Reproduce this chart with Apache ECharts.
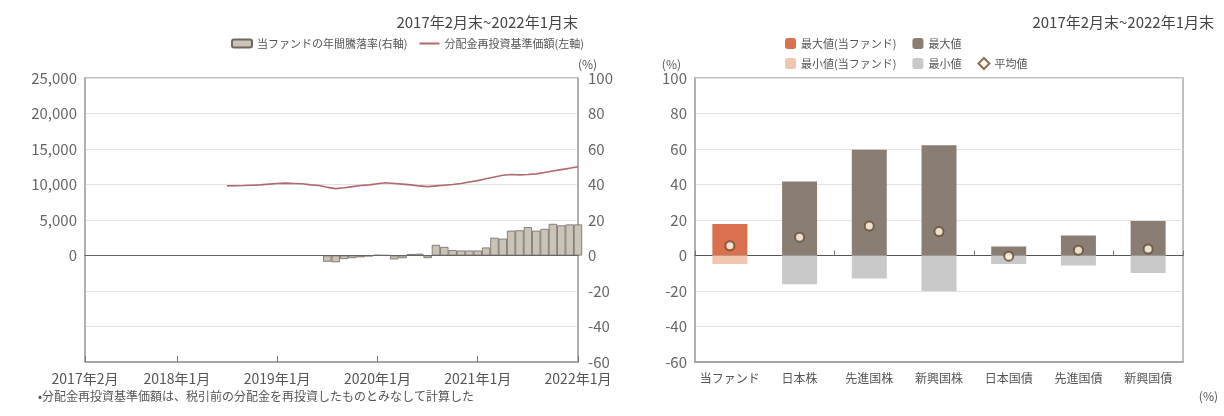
<!DOCTYPE html>
<html>
<head>
<meta charset="utf-8">
<script src="https://cdn.jsdelivr.net/npm/echarts@6/dist/echarts.min.js"></script>
<style>html,body{margin:0;padding:0;background:#fff;}#c{width:1224px;height:416px;}</style>
</head>
<body>
<div id="c"></div>
<script>
// ---- data ----
// monthly categories 2017年2月 .. 2022年1月 (60 months)
const months = [];
for (let y = 2017, m = 2; months.length < 60; ) {
  months.push(y + '年' + m + '月');
  m++; if (m > 12) { m = 1; y++; }
}
const navStartIndex = 17;   // first month with NAV value
const navValues = [9800, 9820, 9850, 9900, 9950, 10050, 10150, 10200, 10150, 10100,
  9950, 9850, 9600, 9420, 9550, 9700, 9850, 9950, 10100, 10250,
  10150, 10050, 9950, 9800, 9700, 9800, 9900, 10000, 10150, 10350,
  10550, 10800, 11050, 11300, 11400, 11350, 11400, 11500, 11700, 11900,
  12100, 12300, 12500];
const retStartIndex = 29;   // first month with 1-year return
const returnValues = [-3.5, -3.8, -2.0, -1.5, -1.0, -0.5, 0.3, 0.2, -2.2, -1.5,
  0.8, 1.0, -1.5, 6.0, 4.8, 3.0, 2.8, 2.8, 2.8, 4.5,
  10.0, 9.5, 14.0, 14.2, 16.0, 14.0, 15.0, 17.8, 17.0, 17.5, 17.5];
const leftTickLabels = ['2017年2月', '2018年1月', '2019年1月', '2020年1月', '2021年1月', '2022年1月'];

const assets = ['当ファンド', '日本株', '先進国株', '新興国株', '日本国債', '先進国債', '新興国債'];
const maxValues = [17.7, 41.7, 59.6, 62.1, 5.1, 11.2, 19.4];
const minValues = [-4.8, -16.2, -13.0, -20.0, -4.8, -5.7, -9.9];
const avgValues = [5.5, 10.3, 16.6, 13.5, -0.4, 3.0, 3.6];

// ---- build series arrays ----
const navSeries = months.map((_, i) => (i >= navStartIndex ? navValues[i - navStartIndex] : null));
const retSeries = months.map((_, i) => (i >= retStartIndex ? returnValues[i - retStartIndex] : null));
const fundMax = maxValues.map((v, i) => (i === 0 ? v : '-'));
const othMax = maxValues.map((v, i) => (i === 0 ? '-' : v));
const fundMin = minValues.map((v, i) => (i === 0 ? v : '-'));
const othMin = minValues.map((v, i) => (i === 0 ? '-' : v));

const FONT = '"Noto Sans CJK JP", "Noto Sans", sans-serif';
const tickIdx = leftTickLabels.map(l => months.indexOf(l));
const showLbl = (idx, val) => tickIdx.indexOf(idx) >= 0 || leftTickLabels.indexOf(val) >= 0;

const chart = echarts.init(document.getElementById('c'));
chart.setOption({
  animation: false,
  textStyle: { fontFamily: FONT },
  title: [
    { text: '2017年2月末~2022年1月末', right: 641, top: 10, textStyle: { fontSize: 15, fontWeight: 'normal', color: '#444', fontFamily: FONT } },
    { text: '2017年2月末~2022年1月末', right: 5, top: 10, textStyle: { fontSize: 15, fontWeight: 'normal', color: '#444', fontFamily: FONT } }
  ],
  legend: [
    { data: ['当ファンドの年間騰落率(右軸)', { name: '分配金再投資基準価額(左軸)', icon: 'path://M0,0 H20 V2 H0 Z' }], left: 226, top: 33,
      itemWidth: 20, itemHeight: 8, itemGap: 12, textStyle: { fontSize: 11, color: '#555', fontFamily: FONT } },
    { data: ['最大値(当ファンド)', '最大値'], left: 780, top: 33,
      itemWidth: 11, itemHeight: 11, itemGap: 16, textStyle: { fontSize: 11, color: '#555', fontFamily: FONT } },
    { data: ['最小値(当ファンド)', '最小値', { name: '平均値', icon: 'diamond' }], left: 780, top: 52,
      itemWidth: 11, itemHeight: 11, itemGap: 16, textStyle: { fontSize: 11, color: '#555', fontFamily: FONT } }
  ],
  grid: [
    { left: 85, right: 646, top: 78, bottom: 54, show: true, borderColor: '#aaa', borderWidth: 1.5 },
    { left: 695, right: 41, top: 78, bottom: 54, show: true, borderColor: '#aaa', borderWidth: 1.5 }
  ],
  xAxis: [
    { type: 'category', gridIndex: 0, data: months, boundaryGap: false, position: 'bottom',
      axisLine: { onZero: false, lineStyle: { color: '#999', width: 1.5 } },
      axisTick: { show: true, inside: true, length: 6, interval: showLbl, lineStyle: { color: '#777', width: 1 } },
      axisLabel: { interval: showLbl, color: '#555', fontSize: 14, margin: 10, fontFamily: FONT },
      splitLine: { show: false } },
    { type: 'category', gridIndex: 0, data: months, boundaryGap: false, position: 'bottom',
      axisLine: { onZero: true, lineStyle: { color: '#666', width: 1.2 } },
      axisTick: { show: false }, axisLabel: { show: false }, splitLine: { show: false } },
    { type: 'category', gridIndex: 1, data: assets, position: 'bottom',
      axisLine: { onZero: false, lineStyle: { color: '#999', width: 1.5 } },
      axisTick: { show: false },
      axisLabel: { interval: 0, color: '#555', fontSize: 12, margin: 10, fontFamily: FONT } },
    { type: 'category', gridIndex: 1, data: assets, position: 'bottom',
      axisLine: { onZero: true, lineStyle: { color: '#555', width: 1.2 } },
      axisTick: { show: true, inside: true, length: 5, lineStyle: { color: '#777' } },
      axisLabel: { show: false } }
  ],
  yAxis: [
    { type: 'value', gridIndex: 0, min: -15000, max: 25000, interval: 5000,
      axisLine: { show: true, lineStyle: { color: '#aaa', width: 1.5 } }, axisTick: { show: false },
      axisLabel: { color: '#666', fontSize: 15, margin: 8, fontFamily: FONT,
        formatter: v => (v >= 0 ? v.toLocaleString('en-US') : '') },
      splitLine: { lineStyle: { color: '#e2e2e2' } } },
    { type: 'value', gridIndex: 0, position: 'right', min: -60, max: 100, interval: 20,
      name: '(%)', nameGap: 6, nameTextStyle: { color: '#555', fontSize: 12, align: 'left', padding: [0, 0, 0, 0] },
      axisLine: { show: true, lineStyle: { color: '#aaa', width: 1.5 } }, axisTick: { show: false },
      axisLabel: { color: '#666', fontSize: 15, margin: 10, fontFamily: FONT },
      splitLine: { show: false } },
    { type: 'value', gridIndex: 1, min: -60, max: 100, interval: 20,
      name: '(%)', nameGap: 6, nameTextStyle: { color: '#555', fontSize: 12, align: 'right', padding: [0, 14, 0, 0] },
      axisLine: { show: true, lineStyle: { color: '#aaa', width: 1.5 } }, axisTick: { show: false },
      axisLabel: { color: '#666', fontSize: 15, margin: 8, fontFamily: FONT },
      splitLine: { lineStyle: { color: '#e2e2e2' } } }
  ],
  series: [
    { name: '当ファンドの年間騰落率(右軸)', type: 'bar', xAxisIndex: 0, yAxisIndex: 1, data: retSeries,
      barWidth: '100%', itemStyle: { color: '#cbc3b8', borderColor: '#6e6862', borderWidth: 0.8 },
      markLine: { silent: true, symbol: 'none', label: { show: false }, animation: false,
        lineStyle: { color: '#666', width: 1.2, type: 'solid' }, data: [{ yAxis: 0 }] } },
    { name: '分配金再投資基準価額(左軸)', type: 'line', xAxisIndex: 0, yAxisIndex: 0, data: navSeries,
      symbol: 'none', lineStyle: { color: '#b06a6e', width: 1.6 }, itemStyle: { color: '#b06a6e' }, z: 5 },
    { name: '最大値(当ファンド)', type: 'bar', xAxisIndex: 2, yAxisIndex: 2, stack: 'r', data: fundMax,
      barWidth: 35, itemStyle: { color: '#d9714f' } },
    { name: '最大値', type: 'bar', xAxisIndex: 2, yAxisIndex: 2, stack: 'r', data: othMax,
      barWidth: 35, itemStyle: { color: '#8a7e74' } },
    { name: '最小値(当ファンド)', type: 'bar', xAxisIndex: 2, yAxisIndex: 2, stack: 'r', data: fundMin,
      barWidth: 35, itemStyle: { color: '#f1c6ae' } },
    { name: '最小値', type: 'bar', xAxisIndex: 2, yAxisIndex: 2, stack: 'r', data: othMin,
      barWidth: 35, itemStyle: { color: '#c9c9c9' } },
    { name: '平均値', type: 'scatter', xAxisIndex: 2, yAxisIndex: 2, data: avgValues,
      symbol: 'circle', symbolSize: 9, z: 10,
      itemStyle: { color: '#fffbe8', borderColor: '#6b4a30', borderWidth: 2 } }
  ],
  graphic: [
    { type: 'text', left: 38, top: 390, style: { text: '•分配金再投資基準価額は、税引前の分配金を再投資したものとみなして計算した',
      fill: '#555', fontSize: 12, fontFamily: FONT } },
    { type: 'text', right: 6, top: 390, style: { text: '(%)', fill: '#555', fontSize: 12, fontFamily: FONT } }
  ]
});
</script>
</body>
</html>
